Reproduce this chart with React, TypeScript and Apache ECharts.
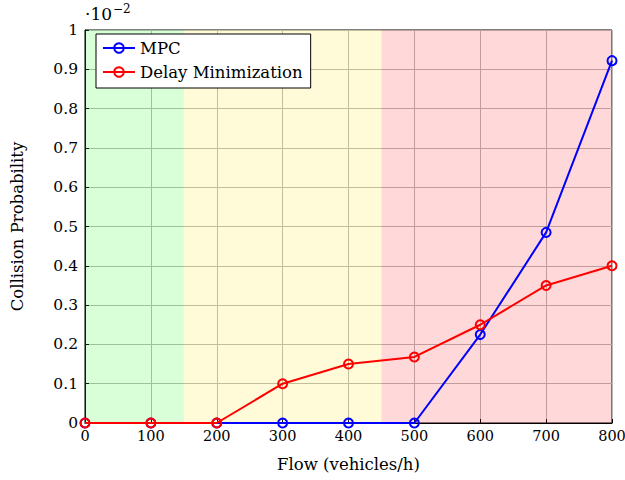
import React, { useEffect, useRef } from "react";
import * as echarts from "echarts";

// Traffic flow levels (vehicles/h)
const flows = [0, 100, 200, 300, 400, 500, 600, 700, 800];
// Collision probability, in units of 10^-2
const mpcValues = [0, 0, 0, 0, 0, 0, 0.225, 0.485, 0.922];
const delayMinValues = [0, 0, 0, 0.1, 0.15, 0.168, 0.25, 0.35, 0.4];
// Traffic regimes shaded behind the curves: [from, to, colour]
const regimes: [number, number, string][] = [
  [0, 150, "rgba(0,255,0,0.15)"],
  [150, 450, "rgba(255,230,0,0.15)"],
  [450, 800, "rgba(255,0,0,0.15)"],
];

const FONT = "DejaVu Serif";

export default function App() {
  const ref = useRef<HTMLDivElement>(null);

  useEffect(() => {
    if (!ref.current) return;
    const chart = echarts.init(ref.current, undefined, { renderer: "svg" });
    const pair = (vals: number[]) => flows.map((f, i) => [f, vals[i]]);
    const lineSeries = (name: string, color: string, vals: number[], z: number) => ({
      name,
      type: "line",
      data: pair(vals),
      z,
      symbol: "circle",
      symbolSize: 9,
      showAllSymbol: true,
      lineStyle: { color, width: 2 },
      itemStyle: { color: "rgba(255,255,255,0)", borderColor: color, borderWidth: 2 },
    });
    chart.setOption({
      animation: false,
      textStyle: { fontFamily: FONT },
      grid: {
        left: 85,
        right: 13,
        top: 30,
        bottom: 57,
        outerBoundsMode: "none",
        show: true,
        borderColor: "#000",
        borderWidth: 1,
        backgroundColor: "transparent",
      },
      legend: {
        orient: "vertical",
        left: 96,
        top: 34,
        padding: [4, 8, 6, 6],
        itemGap: 4,
        itemWidth: 32,
        itemHeight: 12,
        backgroundColor: "#fff",
        borderColor: "#000",
        borderWidth: 1,
        borderRadius: 0,
        textStyle: { fontFamily: FONT, fontSize: 16.5, color: "#000", lineHeight: 20 },
        data: ["MPC", "Delay Minimization"],
      },
      xAxis: {
        type: "value",
        min: 0,
        max: 800,
        interval: 100,
        name: "Flow (vehicles/h)",
        nameLocation: "middle",
        nameGap: 33,
        nameTextStyle: { fontFamily: FONT, fontSize: 16.5, color: "#000" },
        axisLine: { show: true, lineStyle: { color: "#000" } },
        axisTick: { inside: true, length: 4, lineStyle: { color: "#000" } },
        axisLabel: { fontFamily: FONT, fontSize: 14.5, color: "#000", margin: 5 },
        splitLine: { show: true, lineStyle: { color: "#b8b8b8", width: 1 } },
      },
      yAxis: {
        type: "value",
        min: 0,
        max: 1,
        interval: 0.1,
        name: "Collision Probability",
        nameLocation: "middle",
        nameGap: 59,
        nameTextStyle: { fontFamily: FONT, fontSize: 16.5, color: "#000" },
        axisLine: { show: true, lineStyle: { color: "#000" } },
        axisTick: { inside: true, length: 4, lineStyle: { color: "#000" } },
        axisLabel: { fontFamily: FONT, fontSize: 15.5, color: "#000", margin: 7 },
        splitLine: { show: true, lineStyle: { color: "#b8b8b8", width: 1 } },
      },
      graphic: [
        {
          type: "text",
          x: 85,
          y: 5,
          style: {
            text: "·10",
            fontFamily: FONT,
            fontSize: 17,
            fill: "#000",
            verticalAlign: "top",
          },
        },
        {
          type: "text",
          x: 113,
          y: 3,
          style: {
            text: "−2",
            fontFamily: FONT,
            fontSize: 12,
            fill: "#000",
            verticalAlign: "top",
          },
        },
      ],
      series: [
        {
          name: "regimes",
          type: "line",
          data: [],
          z: 1,
          silent: true,
          markArea: {
            silent: true,
            data: regimes.map(([a, b, c]) => [
              { xAxis: a, itemStyle: { color: c } },
              { xAxis: b },
            ]),
          },
        },
        lineSeries("MPC", "#0000ff", mpcValues, 3),
        lineSeries("Delay Minimization", "#ff0000", delayMinValues, 4),
      ],
    });
    return () => chart.dispose();
  }, []);

  return (
    <div
      ref={ref}
      style={{ position: "absolute", left: 0, top: 0, width: 625, height: 480 }}
    />
  );
}
